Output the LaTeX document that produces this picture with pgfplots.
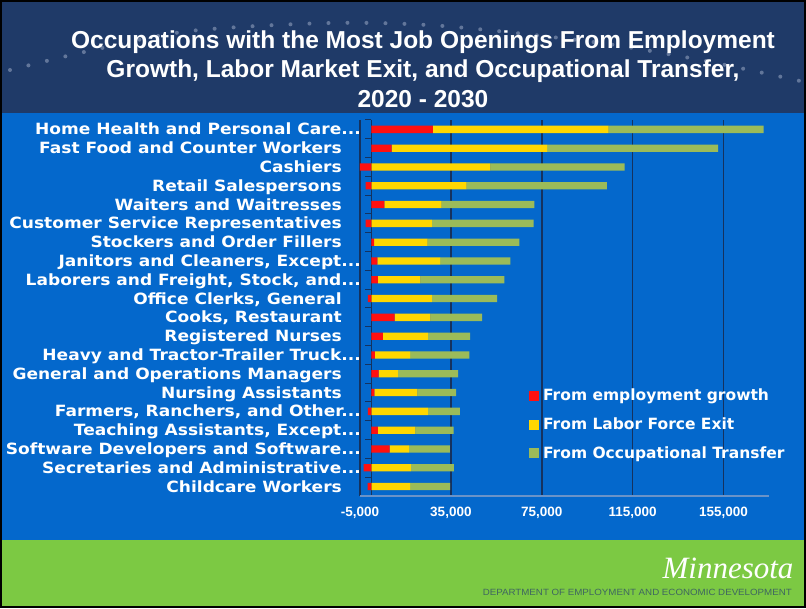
\documentclass[border=0pt]{standalone}
\usepackage{fontspec}
\setmainfont{DejaVu Sans}
\newfontfamily\lbl[FakeStretch=1.10]{DejaVu Sans}
\newfontfamily\lib{Liberation Sans}
\newfontfamily\libserif{Liberation Serif}
\usepackage{pgfplots}
\pgfplotsset{compat=1.18}
\usepackage{pgfplotstable}

\definecolor{navy}{HTML}{1F3A68}
\definecolor{bgblue}{HTML}{0468CC}
\definecolor{footgreen}{HTML}{7CC943}
\definecolor{barred}{HTML}{FF1010}
\definecolor{baryellow}{HTML}{FFD700}
\definecolor{bargreen}{HTML}{9BBB59}
\definecolor{gridnavy}{HTML}{15325F}
\definecolor{dotgrey}{HTML}{9AA8C4}
\definecolor{depttext}{HTML}{3F6660}
\definecolor{axislight}{HTML}{6A93C8}

% neg = negative employment growth (drawn left of zero, outside the stack),
% pos = positive employment growth
\pgfplotstableread{
y  neg   pos    yel    grn
20 0     27100  77300  68200
19 0     8900   68500  75200
18 -5100 0      52400  59100
17 -2500 0      41900  61800
16 0     5700   25200  40800
15 -2500 0      26600  44800
14 0     1200   23600  40300
13 0     2600   27700  30900
12 0     2900   18700  36900
11 -1500 0      26600  28700
10 0     10200  15800  22800
9  0     5100   19800  18600
8  0     1600   15500  26000
7  0     3200   8500   26500
6  0     1300   19000  17000
5  -1500 0      24900  14000
4  0     2900   16500  16800
3  0     8000   8500   18100
2  -3400 0      17400  18900
1  -1600 0      17100  17600
}\datatable

\newcommand\tsp{\kern19pt}
\newcommand\ddd{.\kern0pt.\kern0pt.}

\begin{document}
\begin{tikzpicture}
\useasboundingbox (0,0) rectangle (806pt,608pt);
\fill[bgblue] (0,0) rectangle (806pt,608pt);
\fill[navy] (0,495pt) rectangle (806pt,608pt);
\fill[footgreen] (0,0) rectangle (806pt,68pt);
\draw[dotgrey, opacity=0.55, line width=4pt, line cap=round, dash pattern=on 0pt off 19pt]
  plot[smooth] coordinates {(10pt,538pt) (93pt,558pt) (190pt,577pt) (330pt,585pt) (443pt,582pt) (593pt,566pt) (690pt,550pt) (754pt,537pt) (800pt,527pt)};
\node[text=white, font=\lib\bfseries\fontsize{24.5}{29.5}\selectfont, align=center] at (423pt,539pt)
  {Occupations with the Most Job Openings From Employment\\Growth, Labor Market Exit, and Occupational Transfer,\\2020 - 2030};

\begin{axis}[
  at={(360pt,112pt)}, anchor=south west,
  scale only axis, width=409pt, height=376pt,
  xbar stacked, bar width=7.3pt,
  xmin=-5000, xmax=175000, ymin=0.5, ymax=20.5,
  axis line style={draw=none},
  xtick={-5000,35000,75000,115000,155000},
  xticklabels={{-5,000},{35,000},{75,000},{115,000},{155,000}},
  scaled x ticks=false,
  xmajorgrids, grid style={gridnavy, line width=1.5pt},
  major tick length=0pt,
  xticklabel style={font=\lib\bfseries\fontsize{13.5}{14}\selectfont, text=white, anchor=base, yshift=-21pt},
  ytick={1,...,20},
  yticklabels={Childcare Workers\tsp, Secretaries and Administrative\ddd, Software Developers and Software\ddd, Teaching Assistants{,} Except\ddd, Farmers{,} Ranchers{,} and Other\ddd, Nursing Assistants\tsp, General and Operations Managers\tsp, Heavy and Tractor-Trailer Truck\ddd, Registered Nurses\tsp, {Cooks, Restaurant\tsp}, {Office Clerks, General\tsp}, Laborers and Freight{,} Stock{,} and\ddd, Janitors and Cleaners{,} Except\ddd, Stockers and Order Fillers\tsp, Customer Service Representatives\tsp, Waiters and Waitresses\tsp, Retail Salespersons\tsp, Cashiers\tsp, Fast Food and Counter Workers\tsp, Home Health and Personal Care\ddd},
  yticklabel style={font=\lbl\bfseries\fontsize{15.5}{16}\selectfont, text=white, anchor=base east, inner sep=0pt, xshift=1pt, yshift=-5.6pt},
  legend style={at={(rel axis cs:0.413,0.290)}, anchor=north west, draw=none, fill=none, text=white,
    font=\bfseries\fontsize{15.5}{16}\selectfont, row sep=11.5pt, cells={anchor=west}, inner sep=0pt},
  legend image code/.code={\fill[#1] (0pt,-5pt) rectangle (10pt,5pt); \path (12pt,0pt);},
  clip=false,
]
\addplot[fill=barred, draw=none, forget plot, stack plots=false] table[x=neg, y=y] {\datatable};
\addplot[fill=barred, draw=none] table[x=pos, y=y] {\datatable};
\addplot[fill=baryellow, draw=none] table[x=yel, y=y] {\datatable};
\addplot[fill=bargreen, draw=none] table[x=grn, y=y] {\datatable};
\legend{From employment growth, From Labor Force Exit, From Occupational Transfer}
\draw[axislight, line width=1.2pt] (axis cs:-5000,0.5) -- (axis cs:175000,0.5);
\draw[gridnavy, line width=1.2pt] (axis cs:0,0.5) -- (axis cs:0,20.5);
\pgfplotsinvokeforeach{0,...,20}{\draw[gridnavy, line width=1pt] (axis cs:0,#1.5) -- ++(-6pt,0pt);}
\end{axis}

\node[text=white, font=\libserif\itshape\fontsize{31}{31}\selectfont, anchor=base east] at (797pt,30pt) {Minnesota};
\node[anchor=base east, text=depttext, inner sep=0pt] at (792pt,13pt)
  {\resizebox{309pt}{6.3pt}{\lib DEPARTMENT OF EMPLOYMENT AND ECONOMIC DEVELOPMENT}};
\draw[black, line width=2pt] (1pt,1pt) rectangle (805pt,607pt);
\end{tikzpicture}
\end{document}
